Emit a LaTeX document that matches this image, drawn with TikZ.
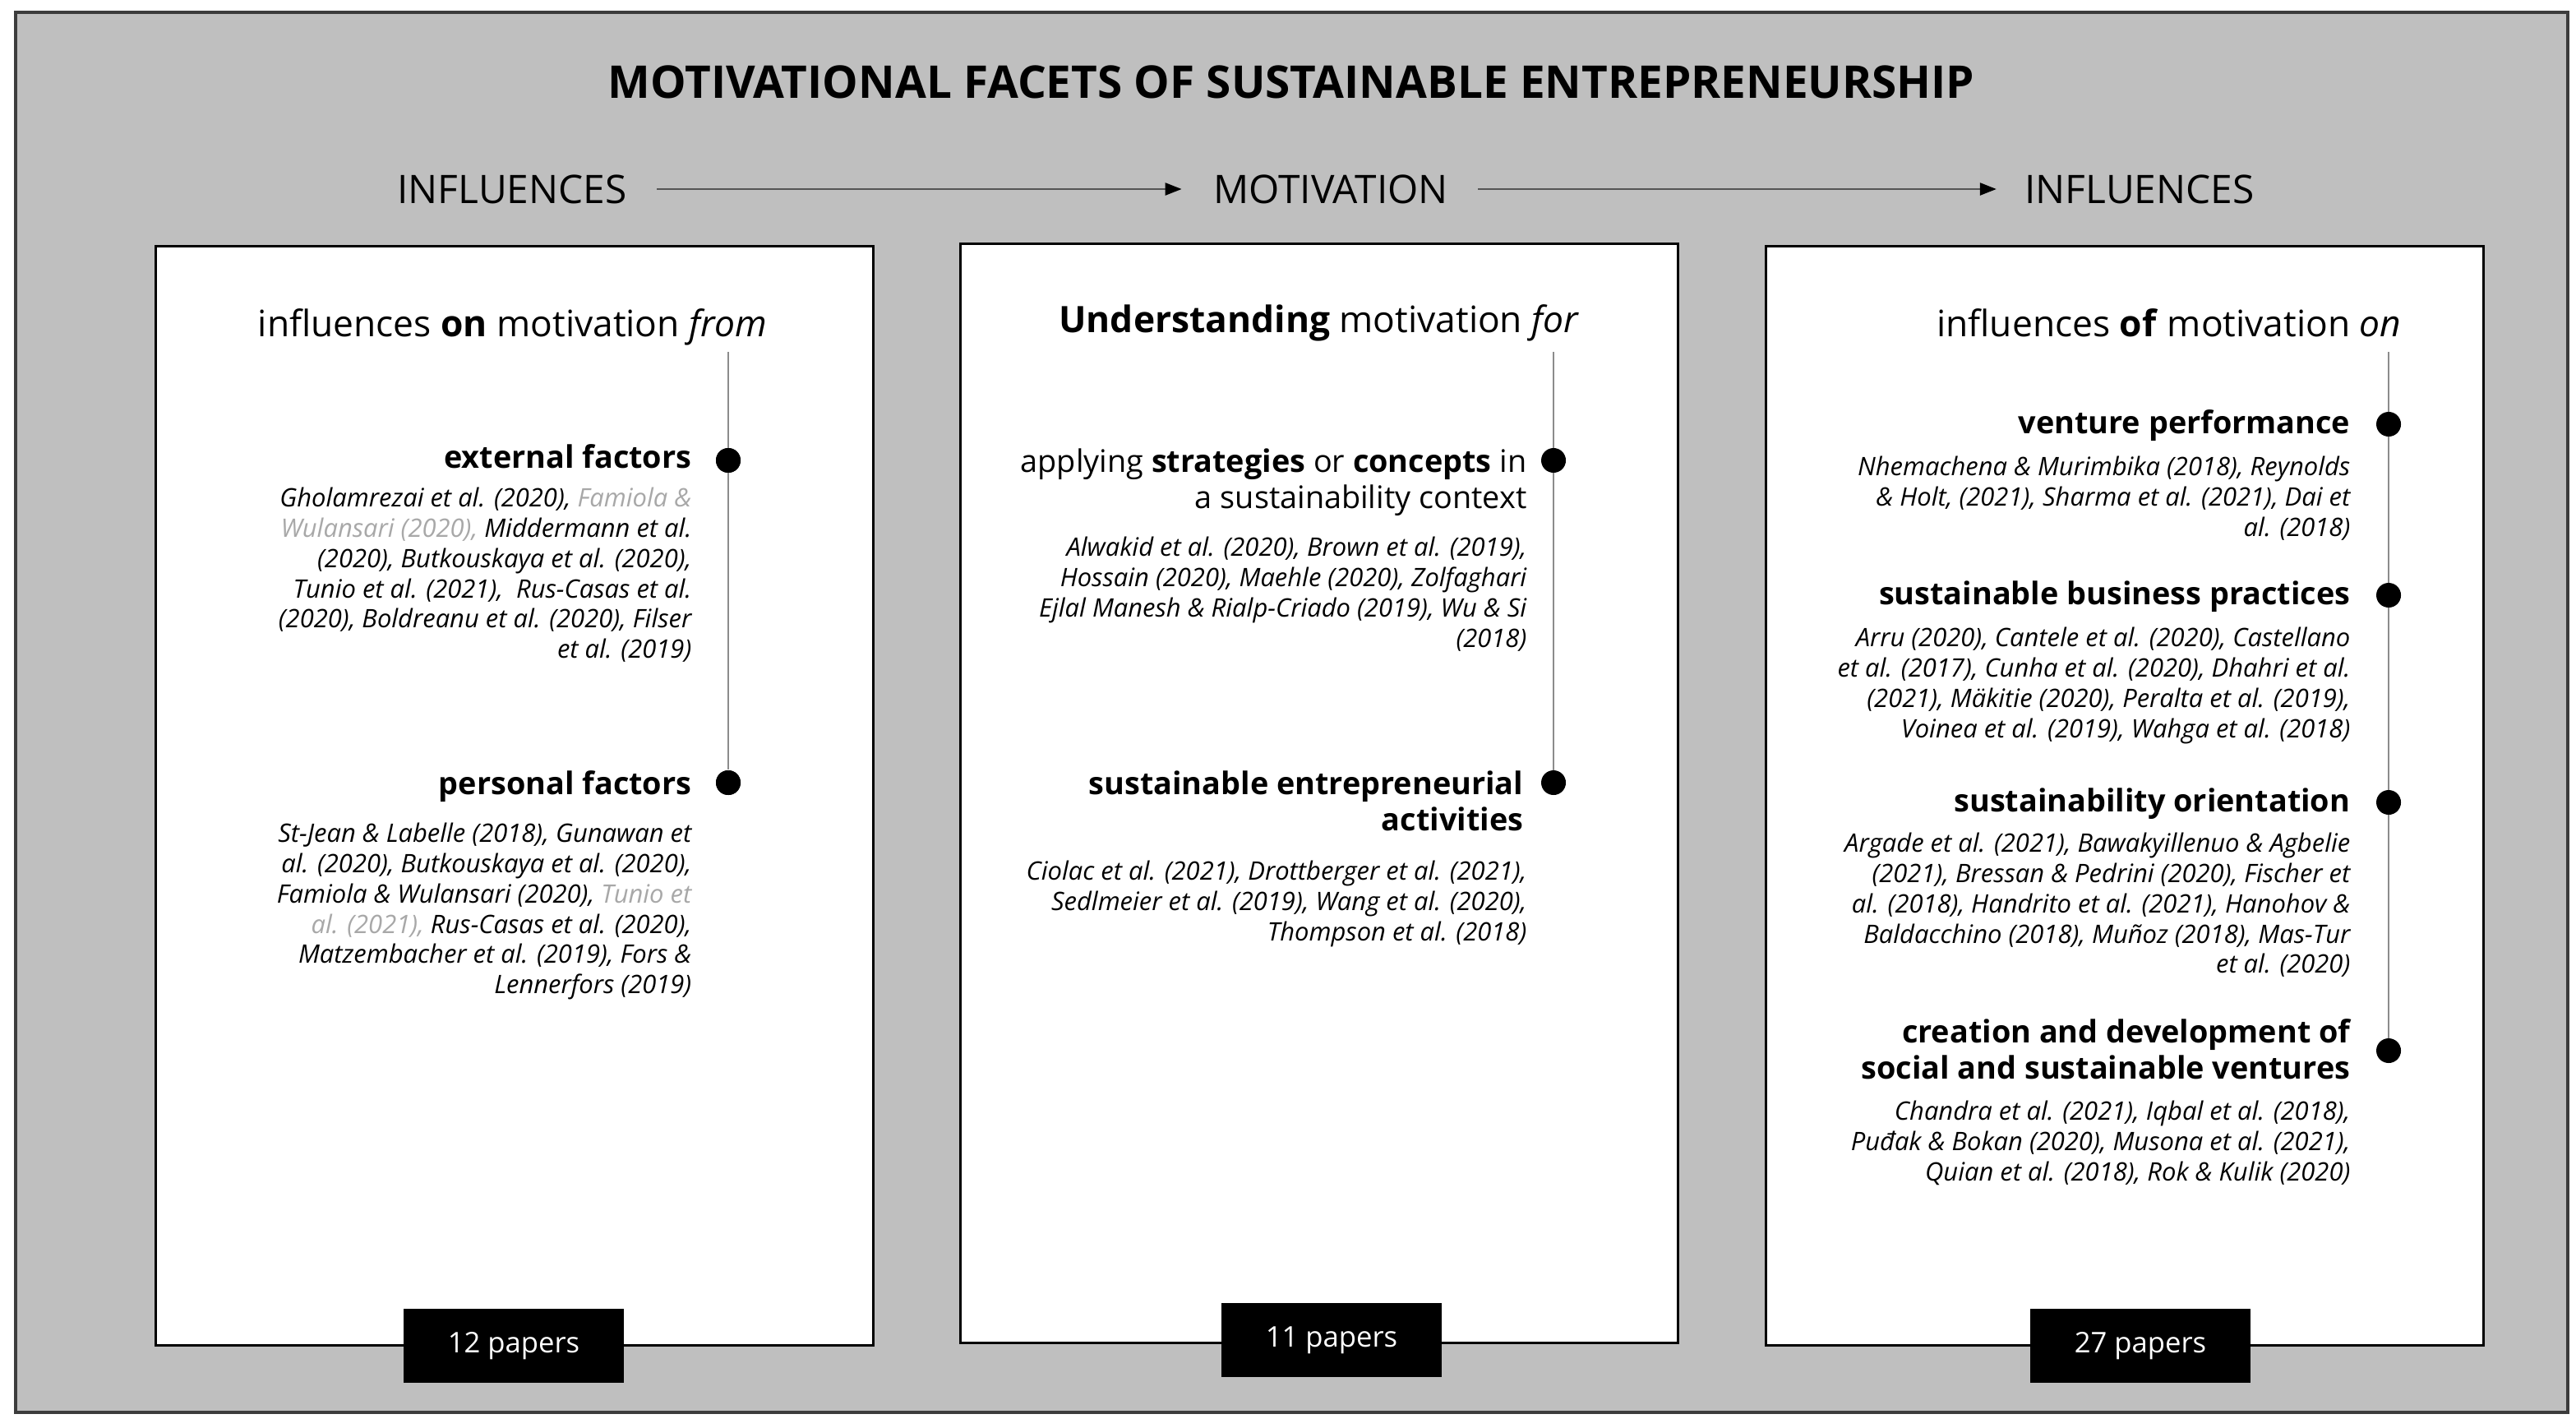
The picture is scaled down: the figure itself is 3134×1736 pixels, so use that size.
\documentclass[tikz,border=0pt]{standalone}
\usepackage{fontspec}
\setmainfont{Open Sans}
\usetikzlibrary{arrows.meta}
\definecolor{bggrey}{HTML}{BFBFBF}
\definecolor{citegrey}{HTML}{A8A8A8}
\definecolor{framegrey}{HTML}{3C3C3C}
\definecolor{arrgrey}{HTML}{555555}
\definecolor{linegrey}{HTML}{8C8C8C}
\newcommand\fsz[2]{\fontsize{#1}{#2}\selectfont}
\newcommand\gr[1]{\textcolor{citegrey}{#1}}
\begin{document}
\begin{tikzpicture}[x=0.01cm,y=-0.01cm,
  frame/.style={draw=framegrey,fill=bggrey,line width=1.1pt},
  panel/.style={draw=black,fill=white,line width=0.85pt,inner sep=0pt,minimum width=8.72cm,minimum height=13.36cm},
  papers/.style={fill=black,text=white,inner sep=0pt,minimum width=2.67cm,minimum height=0.9cm,font=\fsz{9.85pt}{11pt}},
  dot/.style={circle,fill=black,inner sep=0pt,minimum size=0.3cm},
  ttl/.style={anchor=base,inner sep=0pt,font=\fsz{15.6pt}{18pt}\bfseries},
  lab/.style={inner sep=0pt,font=\fsz{13.6pt}{16pt}},
  hdr/.style={anchor=base east,inner sep=0pt,font=\fsz{12.6pt}{15pt}},
  catr/.style={inner sep=0pt,align=right,font=\fsz{10.75pt}{12.5pt}},
  cat/.style={catr,font=\fsz{10.75pt}{12.5pt}\bfseries},
  cite/.style={anchor=north east,inner sep=0pt,align=right,font=\fsz{8.8pt}{10.5pt}\itshape},
  vline/.style={draw=linegrey,line width=0.55pt},
  arr/.style={draw=arrgrey,line width=0.7pt,-{Triangle[length=0.2cm,width=0.15cm,color=black]}}
]
\useasboundingbox (0,0) rectangle (3134,1736);
\fill[white] (0,0) rectangle (3134,1736);
\draw[frame] (19,15) rectangle (3124,1718);

% title and flow labels
\node[ttl] (title) at (1571,119) {MOTIVATIONAL FACETS OF SUSTAINABLE ENTREPRENEURSHIP};
\node[lab] (inf1) at (623,230) {INFLUENCES};
\node[lab] (mot) at (1619,230) {MOTIVATION};
\node[lab] (inf2) at (2603,230) {INFLUENCES};
\draw[arr,shorten <=0.36cm,shorten >=0.38cm] (inf1.east) -- (mot.west);
\draw[arr,shorten <=0.36cm,shorten >=0.34cm] (mot.east) -- (inf2.west);

% panels
\node[panel] (p1) at (626,968) {};
\node[panel] (p2) at (1605,965) {};
\node[panel] (p3) at (2585,968) {};

% ---------- left panel ----------
\node[hdr] (h1) at (934,409) {influences \textbf{on} motivation \textit{from}};
\coordinate (t1) at (886,428);
\node[dot] (d11) at (886,560) {};
\node[dot] (d12) at (886,952) {};
\draw[vline] (t1) -- (d12);
\node[dot] at (d11) {};
\node[dot] at (d12) {};
\node[cat,anchor=base east] (c11) at (842,569) {external factors};
\node[cite] (r11) at (842,592) {Gholamrezai et al. (2020), \gr{Famiola \&}\\
\gr{Wulansari (2020),} Middermann et al.\\
(2020), Butkouskaya et al. (2020),\\
Tunio et al. (2021), \ Rus-Casas et al.\\
(2020), Boldreanu et al. (2020), Filser\\
et al. (2019)};
\node[cat,anchor=base east] (c12) at (842,966) {personal factors};
\node[cite] (r12) at (842,1000) {St-Jean \& Labelle (2018), Gunawan et\\
al. (2020), Butkouskaya et al. (2020),\\
Famiola \& Wulansari (2020), \gr{Tunio et}\\
\gr{al. (2021),} Rus-Casas et al. (2020),\\
Matzembacher et al. (2019), Fors \&\\
Lennerfors (2019)};
\node[papers] (n1) at (625,1637) {12 papers};

% ---------- middle panel ----------
\node[hdr] (h2) at (1922,404) {\textbf{Understanding} motivation \textit{for}};
\coordinate (t2) at (1890,428);
\draw[vline] (t2) -- (1890,952);
\node[dot] (d21) at (1890,560) {};
\node[dot] (d22) at (1890,952) {};
\node[catr,anchor=north east] (c21) at (1858,545) {applying \textbf{strategies} or \textbf{concepts} in\\ a sustainability context};
\node[cite] (r21) at (1858,652) {Alwakid et al. (2020), Brown et al. (2019),\\
Hossain (2020), Maehle (2020), Zolfaghari\\
Ejlal Manesh \& Rialp-Criado (2019), Wu \& Si\\
(2018)};
\node[cat,anchor=north east] (c22) at (1854,937) {sustainable entrepreneurial\\ activities};
\node[cite] (r22) at (1858,1046) {Ciolac et al. (2021), Drottberger et al. (2021),\\
Sedlmeier et al. (2019), Wang et al. (2020),\\
Thompson et al. (2018)};
\node[papers] (n2) at (1620,1630) {11 papers};

% ---------- right panel ----------
\node[hdr] (h3) at (2922,409) {influences \textbf{of} motivation \textit{on}};
\coordinate (t3) at (2906,428);
\draw[vline] (t3) -- (2906,1278);
\node[dot] (d31) at (2906,516) {};
\node[dot] (d32) at (2906,724) {};
\node[dot] (d33) at (2906,976) {};
\node[dot] (d34) at (2906,1278) {};
\node[cat,anchor=base east] (c31) at (2860,527) {venture performance};
\node[cite] (r31) at (2860,554) {Nhemachena \& Murimbika (2018), Reynolds\\
\& Holt, (2021), Sharma et al. (2021), Dai et\\
al. (2018)};
\node[cat,anchor=base east] (c32) at (2860,735) {sustainable business practices};
\node[cite] (r32) at (2860,762) {Arru (2020), Cantele et al. (2020), Castellano\\
et al. (2017), Cunha et al. (2020), Dhahri et al.\\
(2021), Mäkitie (2020), Peralta et al. (2019),\\
Voinea et al. (2019), Wahga et al. (2018)};
\node[cat,anchor=base east] (c33) at (2860,987) {sustainability orientation};
\node[cite] (r33) at (2860,1012) {Argade et al. (2021), Bawakyillenuo \& Agbelie\\
(2021), Bressan \& Pedrini (2020), Fischer et\\
al. (2018), Handrito et al. (2021), Hanohov \&\\
Baldacchino (2018), Muñoz (2018), Mas-Tur\\
et al. (2020)};
\node[cat,anchor=north east] (c34) at (2860,1239) {creation and development of\\ social and sustainable ventures};
\node[cite] (r34) at (2860,1338) {Chandra et al. (2021), Iqbal et al. (2018),\\
Puđak \& Bokan (2020), Musona et al. (2021),\\
Quian et al. (2018), Rok \& Kulik (2020)};
\node[papers] (n3) at (2604,1637) {27 papers};
\end{tikzpicture}
\end{document}
